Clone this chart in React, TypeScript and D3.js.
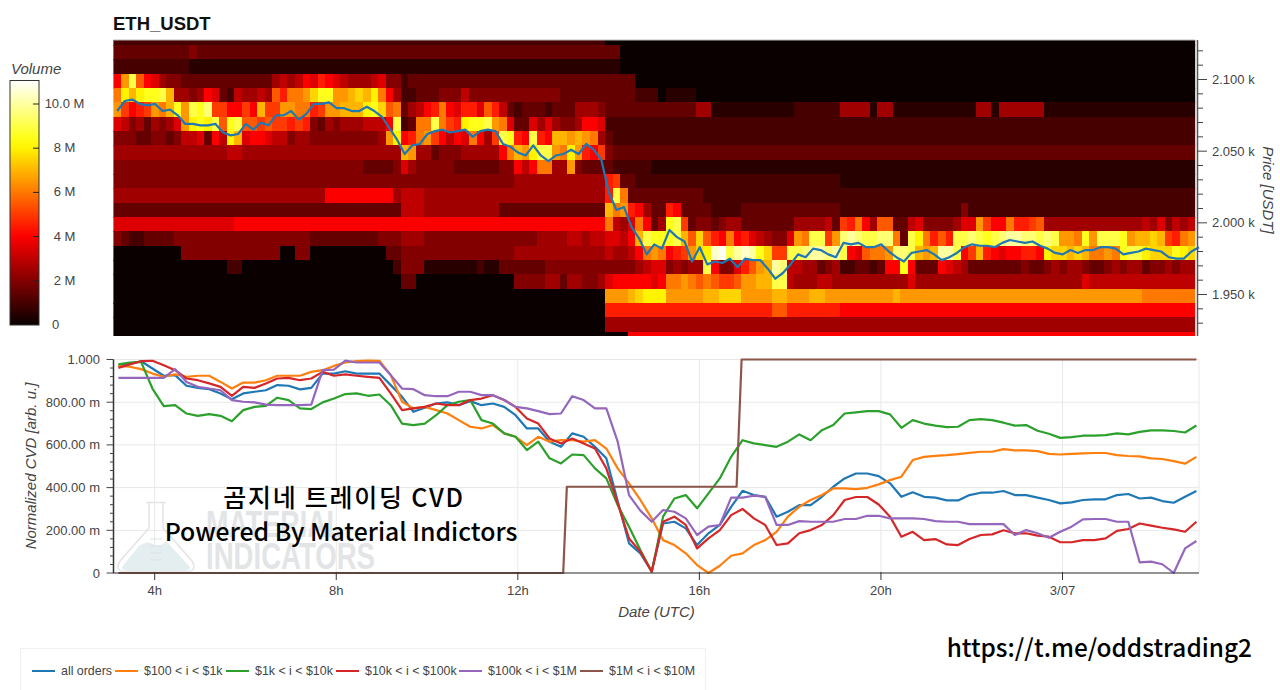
import * as d3 from 'd3'

// heatmap rows from top (2124-2134 USDT) to bottom (1914-1924 USDT)
// one char per 10 min bin, level = base36 digit x 0.5 M, "n*c" repeats c n times
const volumeRows = [
  '65*2 78*0',
  '10*3 4 56*3 76*0',
  '10*2 57*1 76*0',
  '8dib87544 12*3 5656 87987 655 5 67 44 233 28*3 74*0',
  'cgeghhie 55 45 87 32 6 5565 b 9 ccd f hh d de f e g c 8 5 22 3 33444 6 12*4 10*3 3*2 0 4*1 66*0',
  'da89adcehdihjaa88a8eaaddcc9addeeeghfbc356 89c8799 7b96 3 2 333 2 333 555 4 12*3 55 11*1 6*2 4*5 1 55 11*1 55 1 6*5 20*1',
  '76453545 7dghgibh ibbabaa9 a9435455 566 68i23c cica9ghhidc7 337575445887 78*2',
  '44433443 4667 3 8 6 g e 7 8 8 7 664 554444444445 dg89c da8687c85aih98i98eededc53 77*2',
  '15*5 66 21*5 ed5 53 444 55555 8cedgiidcgd98a4 77*3',
  '33*4 3333 4 7 5 4 4444 6*3 44 8 6 8 cc 55 d 4 3333 5*2 72*1',
  '41*4 12*4 12*5 9a 33 27*2 47*1',
  '28*5 9*8 5 666 24*5 9 i c 3 9*3 65*2',
  '38*3 666 10*5 14*3 e c d 9 8 5 33 98 3 333 2222 13*3 16*2 4 30*2',
  '16*7 25*8 24*8 c657c835 hi a 3 44 34 55 7*3 5555 6 3 a9c85bb 33 67 4444 57 7da88c99ab 13*5 6574656',
  '43223333 18*4 9*3 444 555 15*4 5555 66566 776 8 eihhhie bfb 98 c8976 544 7dc ii ad jkjiijj c3igc9b9 iijihijkkjji ji ddc hd iiih d ee fe a9cd',
  '9*0 13*4 00 44 10*0 33 444 12*4 12*5 6556 8 cdc 89a dfg lm i klk h f aa ii jkkjk i87b ccd jji e de kk i 8 a e 9 8 7 889 9 8 gffefeccdchiigfffhgf',
  '15*0 22 20*0 2 444 7*1 2 11 6*3 12*4 5 6 77 45 4 55 i 8 44 7 9 b d e kj 66 55 3 4 5 22332 38 8 h 8 333 8 7 6 5 6*3 3433 45455433454553445455',
  '38*0 33 0 12*0 4444 55 3 55 44 5 7 88888 78 ccdcbc baab ddee ii 6555665 9*5 7 17*5 5*5 7 14*6',
  '65*0 ddde fggg 5*d eefff dddd ee dddeedd 7*d e 32*d 7*c',
  '65*0 22*9 bb 7*9 47*8',
  '65*0 78*5',
  '68*0 75*8',
]

// price per 10 min bin, last value closes the line at the right edge
const priceValues = [
  2078, 2085, 2086, 2083, 2082, 2083, 2078, 2079, 2075, 2069, 2069, 2068, 2068, 2069, 2063, 2061, 2062, 2069, 2065, 2070,
  2068, 2075, 2075, 2078, 2072, 2076, 2083, 2083, 2084, 2080, 2080, 2078, 2078, 2081, 2078, 2074, 2066, 2058, 2048, 2054,
  2055, 2062, 2064, 2065, 2063, 2064, 2065, 2060, 2064, 2065, 2064, 2055, 2053, 2049, 2047, 2054, 2047, 2043, 2047, 2048,
  2051, 2048, 2055, 2051, 2044, 2021, 2009, 2011, 1997, 1989, 1978, 1985, 1982, 1995, 1990, 1987, 1973, 1983, 1971, 1973,
  1972, 1975, 1969, 1975, 1974, 1974, 1968, 1961, 1965, 1971, 1978, 1976, 1982, 1981, 1978, 1976, 1986, 1985, 1986, 1983,
  1983, 1985, 1980, 1976, 1973, 1979, 1980, 1981, 1978, 1974, 1976, 1979, 1983, 1985, 1984, 1984, 1983, 1986, 1988, 1987,
  1986, 1987, 1984, 1982, 1979, 1978, 1981, 1979, 1981, 1981, 1983, 1983, 1982, 1978, 1979, 1980, 1982, 1981, 1980, 1976,
  1975, 1975, 1980, 1983,
]

// CVD series in milli units, one value per 15 min from 3.2h
const allOrders = [
  973, 981, 992, 958, 924, 927, 877, 867, 861, 841, 814, 841, 849, 856, 880, 877, 860, 867, 934, 934, 945, 934, 934, 934, 880, 825, 755,
  774, 794, 799, 786, 805, 786, 794, 778, 739, 677, 677, 615, 591, 654, 638, 591, 537, 337, 139, 92, 8, 232, 240, 209, 131, 186, 225, 310, 385, 365, 357, 264, 287, 318, 318, 357, 404,
  443, 466, 466, 454, 420, 357, 378, 357, 353, 340, 340, 365, 376, 376, 384, 365, 365, 353, 342, 326, 331, 342, 345, 345, 365, 370, 349, 353, 337, 329, 357, 384,
]
const orders100to1k = [
  970, 966, 955, 934, 919, 930, 919, 924, 924, 895, 864, 892, 892, 903, 924, 924, 924, 942, 950, 970, 986, 992, 995, 994, 927, 802, 771,
  778, 763, 747, 716, 685, 677, 693, 654, 638, 599, 638, 615, 622, 622, 615, 622, 583, 490, 420, 342, 256, 154, 131, 92, 37, 0, 34, 81, 92, 131, 154, 193, 264, 310, 342, 365, 396,
  396, 393, 399, 415, 435, 451, 529, 544, 549, 552, 557, 563, 568, 568, 580, 574, 574, 571, 558, 555, 558, 560, 562, 562, 552, 548, 546, 537, 534, 524, 512, 544,
]
const orders1kto10k = [
  977, 986, 989, 864, 782, 786, 747, 736, 744, 736, 711, 763, 778, 783, 821, 810, 771, 768, 799, 817, 838, 841, 830, 836, 786, 700, 693,
  700, 739, 786, 802, 810, 716, 700, 654, 638, 576, 615, 537, 513, 555, 552, 490, 443, 318, 217, 108, 6, 264, 349, 365, 303, 373, 443, 544, 622, 607, 599, 591, 615, 649, 622, 669, 693,
  747, 752, 758, 758, 743, 680, 716, 700, 690, 683, 685, 716, 721, 716, 704, 690, 693, 666, 652, 633, 636, 643, 643, 646, 654, 649, 661, 668, 668, 665, 658, 691,
]
const orders10kto100k = [
  961, 977, 992, 994, 973, 950, 911, 903, 888, 872, 830, 872, 867, 888, 911, 914, 903, 911, 942, 924, 930, 924, 919, 914, 841, 763, 771,
  778, 794, 786, 786, 810, 817, 833, 810, 778, 724, 700, 630, 607, 630, 607, 583, 490, 326, 162, 100, 6, 240, 264, 225, 115, 162, 201, 271, 300, 256, 225, 131, 139, 186, 201, 225, 271,
  342, 356, 356, 321, 264, 170, 193, 154, 159, 134, 131, 159, 178, 181, 200, 186, 186, 175, 170, 144, 144, 154, 154, 162, 197, 206, 232, 222, 212, 204, 193, 240,
]
const orders100kto1m = [
  914, 914, 914, 914, 914, 955, 895, 872, 864, 856, 810, 802, 799, 789, 786, 786, 786, 789, 950, 953, 995, 986, 986, 986, 927, 864, 861,
  833, 828, 828, 849, 849, 833, 833, 810, 778, 771, 758, 744, 747, 828, 810, 771, 771, 615, 365, 292, 240, 295, 287, 256, 178, 217, 225, 353, 353, 362, 357, 225, 225, 243, 240, 240, 240,
  253, 253, 268, 268, 256, 256, 256, 253, 243, 240, 240, 229, 229, 229, 229, 178, 201, 186, 165, 193, 217, 251, 253, 253, 240, 240, 50, 53, 41, 0, 115, 150,
]
// the largest bucket only steps, so it keeps its own times
const orders1mto10mTimes = [3.2, 13.0, 13.08, 16.82, 16.93, 26.95]
const orders1mto10m = [0, 0, 404, 404, 1000, 1000]

const seriesNames = ['all orders', '$100 < i < $1k', '$1k < i < $10k', '$10k < i < $100k', '$100k < i < $1M', '$1M < i < $10M']
const seriesColors = ['#1f77b4', '#ff7f0e', '#2ca02c', '#d62728', '#9467bd', '#8c564b']
const legendLineX = [32, 115, 226, 336, 459, 580]

const timeTicks = [4, 8, 12, 16, 20, 24]
const timeLabels = ['4h', '8h', '12h', '16h', '20h', '3/07']
const priceTicks = [1950, 2000, 2050, 2100]
const cvdTicks = [0, 200, 400, 600, 800, 1000]
const cvdLabels = ['0', '200.00 m', '400.00 m', '600.00 m', '800.00 m', '1.000']
const volumeTicks = [0, 2, 4, 6, 8, 10]
const volumeLabels = ['0', '2 M', '4 M', '6 M', '8 M', '10.0 M']

const FONT = '"Liberation Sans", Arial, sans-serif'
const KR_FONT = '"Noto Sans CJK KR", "Noto Sans", sans-serif'
const AXIS = '#444'
const GRID = '#e8e8e8'

const START = 3.09 // hours, left edge of the heatmap
const BIN = 1 / 6
const ROW_TOP = 2134
const ROW_SIZE = 10

const parseRow = (row: string) =>
  row.split(' ').flatMap(tok => {
    if (tok.includes('*')) {
      const [n, c] = tok.split('*')
      return new Array(+n).fill(parseInt(c, 36) * 0.5)
    }
    return tok.split('').map(c => parseInt(c, 36) * 0.5)
  })

const x = d3.scaleLinear().domain([4, 24]).range([154.7, 1062.5])
const yPrice = d3.scaleLinear().domain([1950, 2100]).range([294.5, 79.5])
const yCvd = d3.scaleLinear().domain([0, 1000]).range([573, 359.5])
const yVol = d3.scaleLinear().domain([0, 10]).range([325, 104])
const heat = d3.scaleLinear<string>()
  .domain([0, 4.05, 8.2, 11.06])
  .range(['#0a0000', '#ff0000', '#ffff00', '#ffffff'])
  .interpolate(d3.interpolateRgb)

const HEAT_LEFT = x(START)
const HEAT_RIGHT = x(START + 143 * BIN)

const priceLine = d3.line<number>()
  .x((_, i) => x(START + (i + 0.5) * BIN))
  .y(d => yPrice(d))
const cvdLine = d3.line<number>()
  .x((_, i) => x(3.2 + i * 0.25))
  .y(d => yCvd(d))
const stepLine = d3.line<number>()
  .x((_, i) => x(orders1mto10mTimes[i]))
  .y(d => yCvd(d))

const cvdSeries = [allOrders, orders100to1k, orders1kto10k, orders10kto100k, orders100kto1m]

export default function App() {
  return (
    <svg width={1280} height={690} style={{ position: 'absolute', left: 0, top: 0, display: 'block' }} fontFamily={FONT}>
      <defs>
        <clipPath id="heat-clip">
          <rect x={HEAT_LEFT} y={40} width={HEAT_RIGHT - HEAT_LEFT} height={296} />
        </clipPath>
        <linearGradient id="volume-grad" x1="0" y1="1" x2="0" y2="0">
          {d3.range(0, 11.1, 0.5).map(v => (
            <stop key={v} offset={v / 11.06} stopColor={heat(v)} />
          ))}
        </linearGradient>
      </defs>

      <text x={113} y={30} fontSize={18.5} fontWeight="bold" fill="#111">ETH_USDT</text>

      {/* Colour bar */}
      <text x={11} y={74} fontSize={15} fontStyle="italic" fill={AXIS}>Volume</text>
      <rect x={10} y={80.5} width={29} height={244.5} fill="url(#volume-grad)" stroke="#333" strokeWidth={1} />
      {volumeTicks.map((v, i) => (
        <g key={v}>
          {v > 0 && <line x1={33} x2={39} y1={yVol(v)} y2={yVol(v)} stroke="#222" />}
          <text x={v === 0 ? 55.5 : 64.5} y={yVol(v) - 0.5} fontSize={13} fill={AXIS} textAnchor="middle" dominantBaseline="central">
            {volumeLabels[i]}
          </text>
        </g>
      ))}

      {/* Heatmap */}
      <g clipPath="url(#heat-clip)" shapeRendering="crispEdges">
        {volumeRows.map((row, r) =>
          parseRow(row).map((v, c) => (
            <rect
              key={`${r}-${c}`}
              x={x(START + c * BIN)}
              y={yPrice(ROW_TOP - r * ROW_SIZE)}
              width={x(BIN) - x(0) + 0.5}
              height={yPrice(0) - yPrice(ROW_SIZE) + 0.5}
              fill={heat(v)}
            />
          ))
        )}
      </g>
      <path d={priceLine(priceValues) ?? ''} fill="none" stroke="#1f77b4" strokeWidth={2.2} strokeLinejoin="round" />
      <line x1={HEAT_LEFT} x2={HEAT_RIGHT} y1={40} y2={40} stroke="#bbb" />

      {/* Price axis */}
      <line x1={1197.5} x2={1197.5} y1={40} y2={336} stroke="#555" strokeWidth={1.5} />
      {d3.range(1930, 2130, 10).map(p => (
        <line
          key={p}
          x1={1197.5}
          x2={priceTicks.includes(p) ? 1207 : 1203}
          y1={yPrice(p)}
          y2={yPrice(p)}
          stroke="#444"
        />
      ))}
      {priceTicks.map(p => (
        <text key={p} x={1212} y={yPrice(p)} fontSize={13} fill={AXIS} dominantBaseline="central">
          {d3.format('.3f')(p / 1000)} k
        </text>
      ))}
      <text
        transform="translate(1263,190) rotate(90)"
        fontSize={15}
        fontStyle="italic"
        fill={AXIS}
        textAnchor="middle"
      >
        Price [USDT]
      </text>

      {/* CVD grid */}
      {cvdTicks.map(v => (
        <line key={v} x1={113} x2={1199} y1={yCvd(v)} y2={yCvd(v)} stroke={GRID} />
      ))}
      {timeTicks.map(t => (
        <line key={t} x1={x(t)} x2={x(t)} y1={359.5} y2={573} stroke={GRID} />
      ))}
      <line x1={1199} x2={1199} y1={359.5} y2={573} stroke={GRID} />

      {/* Watermark */}
      <g>
        <path d="M122,567 L139,546 Q146,540 153,544 Q160,548 166,541 L190,567 Q190,571 184,571 H128 Q122,571 122,567 Z" fill="#e4edef" />
        <path
          d="M146,502.5 H166 M149,503 V528 L120,561 Q114,571 126,572 H186 Q198,571 192,561 L163,528 V503"
          fill="none"
          stroke="#e4e4e4"
          strokeWidth={1.5}
        />
        <path d="M150,539 H162 M150,546 H162 M150,553 H162 M150,560 H162" stroke="#dfe3e4" />
        <text x={206} y={537} fontSize={36} fontWeight="bold" fontFamily='"Liberation Sans Narrow", "Liberation Sans"' fill="#e2e4e6" textLength={137} lengthAdjust="spacingAndGlyphs">
          MATERIAL
        </text>
        <text x={206} y={569} fontSize={36} fontWeight="bold" fontFamily='"Liberation Sans Narrow", "Liberation Sans"' fill="#e2e4e6" textLength={169} lengthAdjust="spacingAndGlyphs">
          INDICATORS
        </text>
      </g>

      {/* CVD lines */}
      {cvdSeries.map((values, i) => (
        <path key={i} d={cvdLine(values) ?? ''} fill="none" stroke={seriesColors[i]} strokeWidth={2.2} strokeLinejoin="round" />
      ))}
      <path d={stepLine(orders1mto10m) ?? ''} fill="none" stroke={seriesColors[5]} strokeWidth={2.2} strokeLinejoin="round" />

      {/* CVD axes */}
      <line x1={113.5} x2={113.5} y1={359.5} y2={573} stroke="#333" strokeWidth={1.5} />
      <line x1={113} x2={1199} y1={573} y2={573} stroke="#333" strokeWidth={1} />
      {d3.range(0, 1001, 40).map(v => (
        <line
          key={v}
          x1={cvdTicks.includes(v) ? 106.5 : 110}
          x2={113.5}
          y1={yCvd(v)}
          y2={yCvd(v)}
          stroke="#444"
        />
      ))}
      {cvdTicks.map((v, i) => (
        <text key={v} x={100} y={yCvd(v)} fontSize={13} fill={AXIS} textAnchor="end" dominantBaseline="central">
          {cvdLabels[i]}
        </text>
      ))}
      {timeTicks.map((t, i) => (
        <g key={t}>
          <line x1={x(t)} x2={x(t)} y1={572} y2={580} stroke="#333" />
          <text x={x(t)} y={590.5} fontSize={13} fill={AXIS} textAnchor="middle" dominantBaseline="central">
            {timeLabels[i]}
          </text>
        </g>
      ))}
      <text transform="translate(36,466) rotate(-90)" fontSize={15} fontStyle="italic" fill={AXIS} textAnchor="middle">
        Normalized CVD [arb. u.]
      </text>
      <text x={656.5} y={617} fontSize={15} fontStyle="italic" fill={AXIS} textAnchor="middle">
        Date (UTC)
      </text>

      {/* Overlaid captions */}
      <text x={344} y={507} fontSize={25} letterSpacing={1.75} fontWeight={500} fontFamily={KR_FONT} fill="#000" textAnchor="middle">
        곰지네 트레이딩 CVD
      </text>
      <text x={341} y={541} fontSize={24.8} fontWeight={500} fontFamily={KR_FONT} fill="#000" textAnchor="middle">
        Powered By Material Indictors
      </text>
      <text x={1252} y={657} fontSize={24.4} fontWeight={500} fontFamily={KR_FONT} fill="#000" textAnchor="end">
        https://t.me/oddstrading2
      </text>

      {/* Legend */}
      <rect x={20.5} y={648.5} width={685} height={60} fill="#fff" stroke="#f0f0f0" />
      {seriesNames.map((name, i) => (
        <g key={name}>
          <line x1={legendLineX[i]} x2={legendLineX[i] + 23} y1={671} y2={671} stroke={seriesColors[i]} strokeWidth={2} />
          <text x={legendLineX[i] + 29} y={671} fontSize={12.4} fill={AXIS} dominantBaseline="central">
            {name}
          </text>
        </g>
      ))}
    </svg>
  )
}
